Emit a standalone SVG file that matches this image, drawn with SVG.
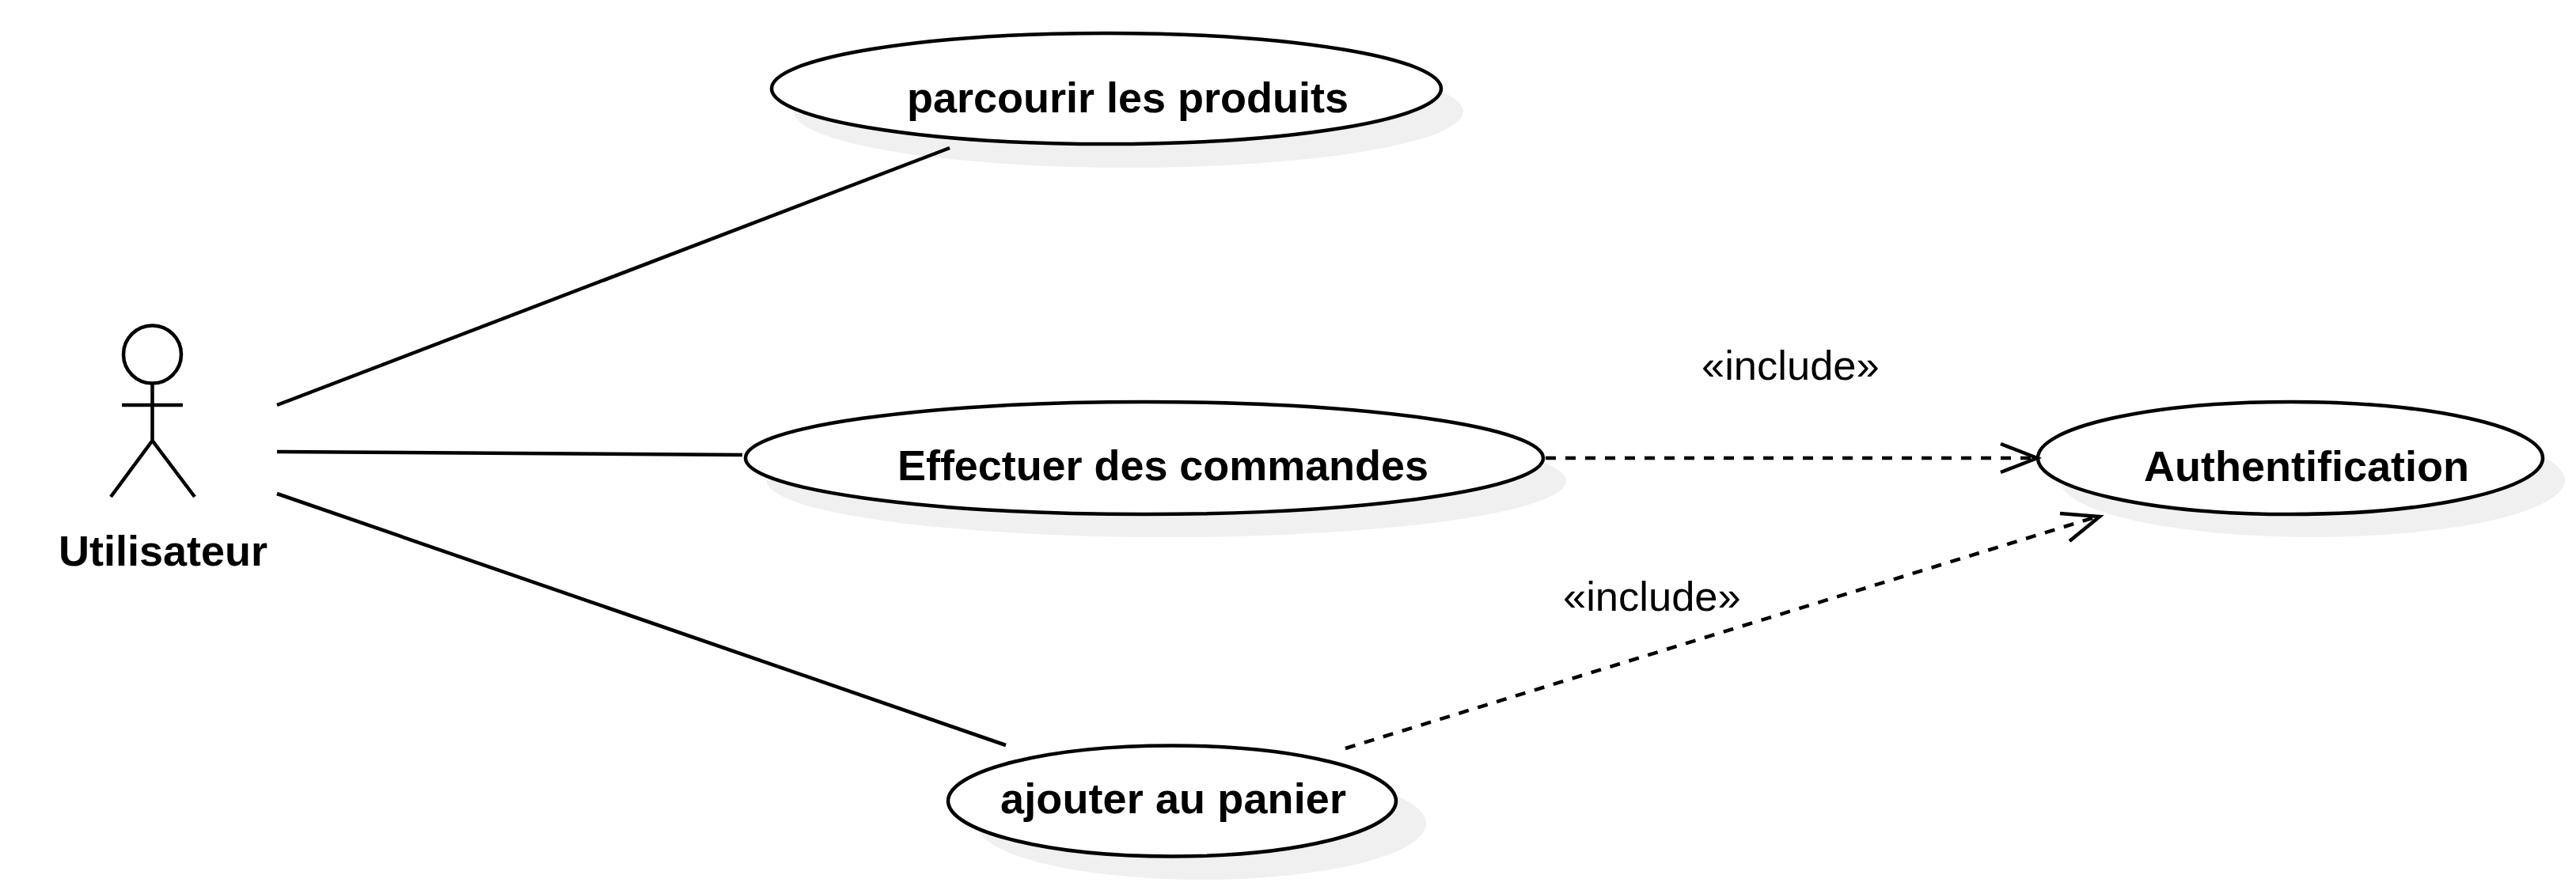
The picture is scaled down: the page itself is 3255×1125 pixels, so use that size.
<svg xmlns="http://www.w3.org/2000/svg" width="3255" height="1125" viewBox="0 0 3255 1125">
<style>
text{font-family:"Liberation Sans",Arial,sans-serif;fill:#000}
.name{font-size:54px;font-weight:700}
.stereo{font-size:52.500px}
.shadow{fill:#f0f0f0;stroke:none}
.uc{fill:#fff;stroke:#000;stroke-width:4.500}
.line{fill:none;stroke:#000;stroke-width:4.500}
.dash{stroke-dasharray:13 12}
</style>
<rect width="3255" height="1125" fill="#fff"/>
<g id="actor-utilisateur">
<circle class="line" cx="192.500" cy="448" r="36.500"/>
<line class="line" x1="192.500" y1="485" x2="192.500" y2="557"/>
<line class="line" x1="154" y1="512" x2="231" y2="512"/>
<polyline class="line" points="140,628 192.500,557 246,628"/>
<text class="name" x="74" y="715">Utilisateur</text>
</g>
<g id="uc-parcourir">
<ellipse class="shadow" cx="1426" cy="141" rx="423" ry="71"/>
<ellipse class="uc" cx="1398" cy="112" rx="423" ry="70"/>
<text class="name" x="1146" y="142" textLength="558">parcourir les produits</text>
</g>
<g id="uc-effectuer">
<ellipse class="shadow" cx="1474" cy="608" rx="505" ry="71"/>
<ellipse class="uc" cx="1446" cy="579" rx="504" ry="71"/>
<text class="name" x="1134" y="607" textLength="671">Effectuer des commandes</text>
</g>
<g id="uc-authentification">
<ellipse class="shadow" cx="2922" cy="607" rx="319" ry="72"/>
<ellipse class="uc" cx="2894" cy="579" rx="319" ry="71"/>
<text class="name" x="2709" y="608" textLength="411">Authentification</text>
</g>
<g id="uc-ajouter">
<ellipse class="shadow" cx="1518" cy="1041" rx="284" ry="71"/>
<ellipse class="uc" cx="1481" cy="1012.500" rx="283" ry="70"/>
<text class="name" x="1264" y="1028" textLength="437">ajouter au panier</text>
</g>
<g id="connectors">
<line class="line" x1="350" y1="512" x2="1200" y2="187"/>
<line class="line" x1="350" y1="571" x2="938" y2="575"/>
<line class="line" x1="350" y1="624" x2="1271" y2="942"/>
<line class="line dash" x1="1953" y1="579" x2="2570" y2="579"/>
<polyline class="line" points="2528,561 2574,579 2528,597"/>
<line class="line dash" x1="1700" y1="946" x2="2650" y2="653"/>
<polyline class="line" points="2603,649 2653,653 2615,684"/>
</g>
<g id="labels">
<text class="stereo" x="2150" y="480">«include»</text>
<text class="stereo" x="1975" y="772">«include»</text>
</g>
</svg>
